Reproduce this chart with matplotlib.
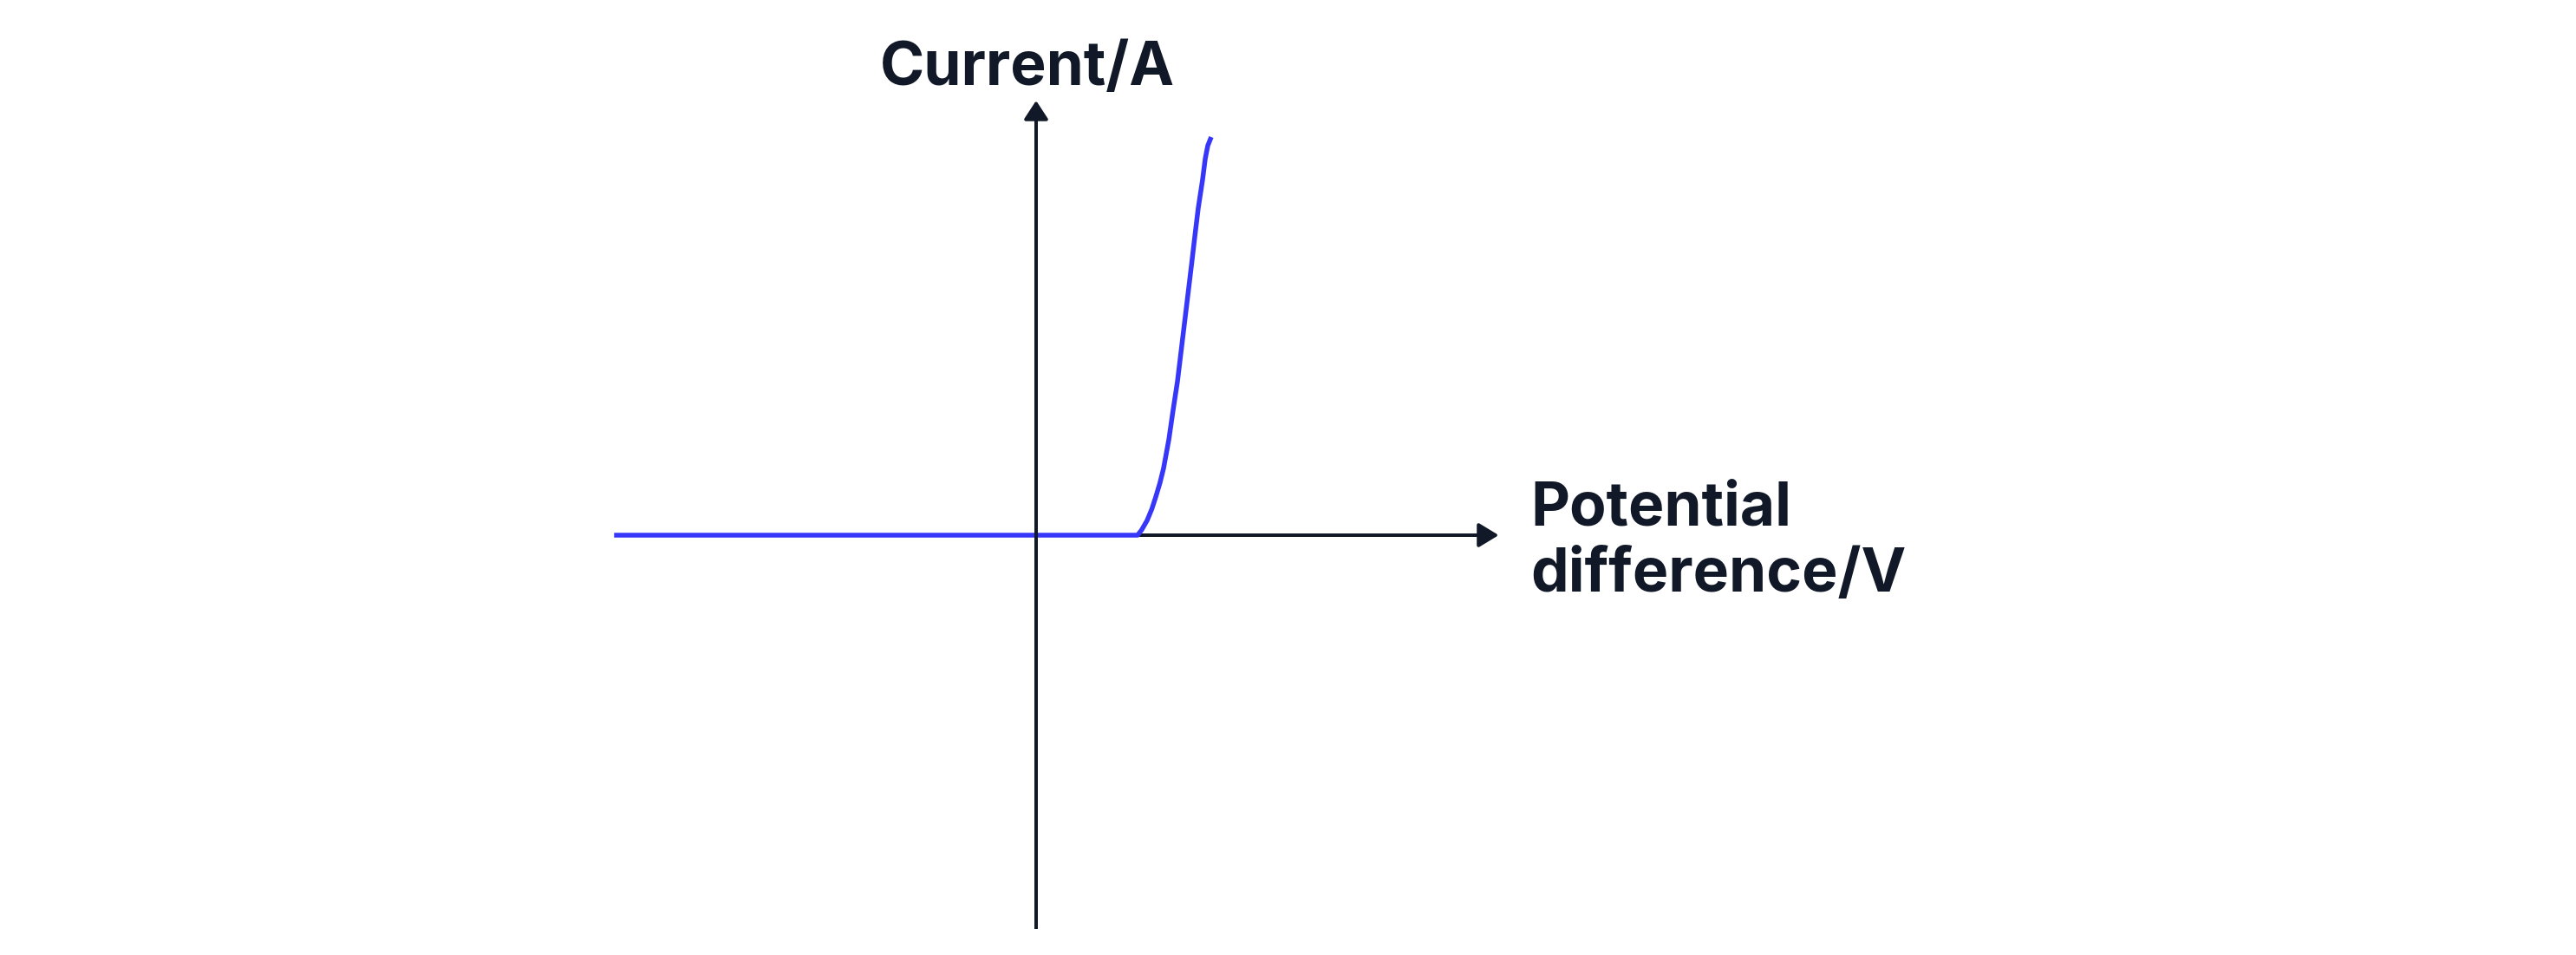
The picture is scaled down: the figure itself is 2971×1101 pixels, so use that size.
import matplotlib
matplotlib.use("Agg")
import matplotlib.pyplot as plt

# Data (V in arbitrary units, knee at 1.0; I in arbitrary units)
flat_v = [-4.16, 1.0]
flat_i = [0.0, 0.0]
curve_v = [1.000, 1.040, 1.094, 1.140, 1.179, 1.220, 1.256, 1.308, 1.350, 1.393, 1.427,
           1.462, 1.496, 1.530, 1.564, 1.598, 1.641, 1.667, 1.692, 1.726]
curve_i = [0.00, 0.06, 0.17, 0.30, 0.44, 0.60, 0.77, 1.10, 1.44, 1.77, 2.10,
           2.44, 2.77, 3.10, 3.44, 3.77, 4.10, 4.34, 4.49, 4.59]
x_axis_end = 4.56
y_axis_top = 5.01
y_axis_bottom = -4.54
x_label = "Potential\ndifference/V"
y_label = "Current/A"

DARK = "#111827"
BLUE = "#3737fa"
DPI = 100
fig = plt.figure(figsize=(29.71, 11.01), dpi=DPI)
ax = fig.add_axes([0, 0, 1, 1])
ax.set_xlim(-1195 / 117, (2971 - 1195) / 117)
ax.set_ylim(-4.84, 6.17)
ax.axis("off")

px = 72 / DPI
# x-axis
ax.annotate("", xy=(x_axis_end, 0), xytext=(0, 0),
            arrowprops=dict(arrowstyle="-|>,head_length=14,head_width=8.5",
                            mutation_scale=1, lw=4 * px, color=DARK,
                            shrinkA=0, shrinkB=0), zorder=1)
# y-axis
ax.plot([0, 0], [y_axis_bottom, 0], color=DARK, lw=4 * px, zorder=3,
        solid_capstyle="butt")
ax.annotate("", xy=(0, y_axis_top), xytext=(0, 0),
            arrowprops=dict(arrowstyle="-|>,head_length=13,head_width=8.5",
                            mutation_scale=1, lw=4 * px, color=DARK,
                            shrinkA=0, shrinkB=0), zorder=3)

ax.plot(flat_v + curve_v[1:], flat_i + curve_i[1:], color=BLUE, lw=5.5 * px,
        zorder=2, solid_joinstyle="round", solid_capstyle="butt")

font = dict(family=["Inter", "DejaVu Sans"], weight="bold", color=DARK, size=50)
ax.text((1015 - 1195) / 117, (617 - 98) / 100, y_label, ha="left", va="baseline", **font)
ax.text((1765 - 1195) / 117, (617 - 682) / 100, x_label, ha="left", va="baseline",
        linespacing=1.22, **font)

fig.savefig("out.png", dpi=DPI, facecolor="white")
